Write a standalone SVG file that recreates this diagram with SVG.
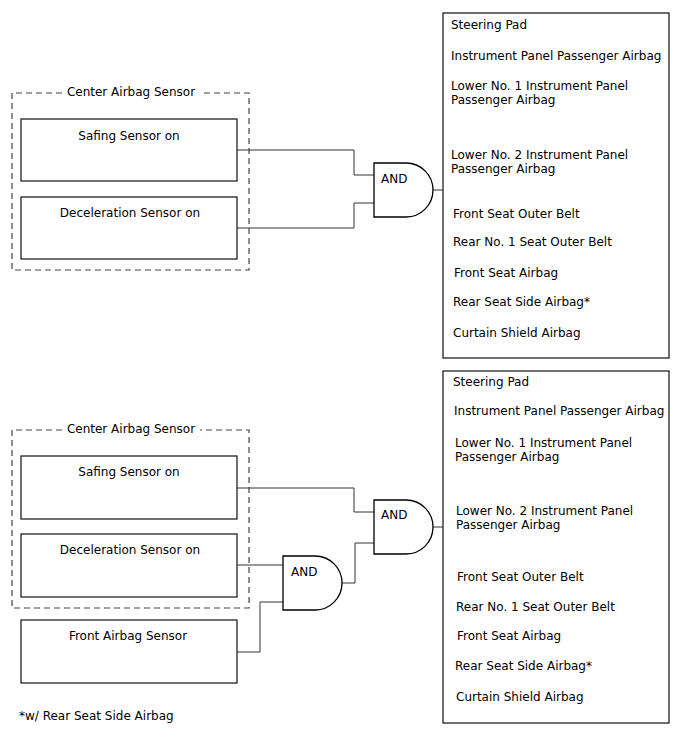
<svg xmlns="http://www.w3.org/2000/svg" width="688" height="755" viewBox="0 0 688 755">
<style>
text{font-family:"DejaVu Sans","Noto Sans",sans-serif;font-size:12px;fill:#000}
.box{fill:#fff;stroke:#222;stroke-width:1.3}
.dash{fill:none;stroke:#444;stroke-width:1.2;stroke-dasharray:6,4}
.gate{fill:#fff;stroke:#000;stroke-width:1.3}
.wire{fill:none;stroke:#333;stroke-width:1}
.c{text-anchor:middle}
</style>
<rect width="688" height="755" fill="#fff"/>
<g id="connectors">
<polyline class="wire" points="237,150 354,150 354,175 374,175"/>
<polyline class="wire" points="237,228 354,228 354,203 374,203"/>
<line class="wire" x1="433" y1="190" x2="443" y2="190"/>
<polyline class="wire" points="237,488 354,488 354,512 374,512"/>
<line class="wire" x1="237" y1="565" x2="283" y2="565"/>
<polyline class="wire" points="237,652 260,652 260,602 283,602"/>
<polyline class="wire" points="342,583 355,583 355,543 374,543"/>
<line class="wire" x1="433" y1="527" x2="443" y2="527"/>
</g>
<g id="center-sensor-1">
<path class="dash" d="M62,93 H12 V270 H249 V93 H200"/>
<text x="131" y="96" class="c">Center Airbag Sensor</text>
</g>
<g id="safing-1"><rect class="box" x="21" y="119" width="216" height="62"/><text x="129" y="140" class="c">Safing Sensor on</text></g>
<g id="decel-1"><rect class="box" x="21" y="197" width="216" height="62"/><text x="130" y="217" class="c">Deceleration Sensor on</text></g>
<g id="and-1"><path class="gate" d="M374,163 H406 A27,27 0 0 1 406,217 H374 Z"/><text x="381" y="183">AND</text></g>
<g id="outputs-1">
<rect class="box" x="443" y="13" width="226" height="345"/>
<text x="451" y="29">Steering Pad</text>
<text x="451" y="60">Instrument Panel Passenger Airbag</text>
<text x="451" y="90">Lower No. 1 Instrument Panel</text>
<text x="451" y="104">Passenger Airbag</text>
<text x="451" y="159">Lower No. 2 Instrument Panel</text>
<text x="451" y="173">Passenger Airbag</text>
<text x="453" y="218">Front Seat Outer Belt</text>
<text x="453" y="246">Rear No. 1 Seat Outer Belt</text>
<text x="454" y="277">Front Seat Airbag</text>
<text x="453" y="306">Rear Seat Side Airbag*</text>
<text x="453" y="337">Curtain Shield Airbag</text>
</g>
<g id="center-sensor-2">
<path class="dash" d="M62,430 H12 V608 H249 V430 H200"/>
<text x="131" y="433" class="c">Center Airbag Sensor</text>
</g>
<g id="safing-2"><rect class="box" x="21" y="456" width="216" height="63"/><text x="129" y="476" class="c">Safing Sensor on</text></g>
<g id="decel-2"><rect class="box" x="21" y="534" width="216" height="63"/><text x="130" y="554" class="c">Deceleration Sensor on</text></g>
<g id="front-sensor"><rect class="box" x="21" y="620" width="216" height="63"/><text x="128" y="640" class="c">Front Airbag Sensor</text></g>
<g id="and-2"><path class="gate" d="M283,556 H315 A27,27 0 0 1 315,610 H283 Z"/><text x="291" y="576">AND</text></g>
<g id="and-3"><path class="gate" d="M374,500 H406 A27,27 0 0 1 406,554 H374 Z"/><text x="381" y="519">AND</text></g>
<g id="outputs-2">
<rect class="box" x="443" y="371" width="226" height="352"/>
<text x="453" y="386">Steering Pad</text>
<text x="454" y="415">Instrument Panel Passenger Airbag</text>
<text x="455" y="447">Lower No. 1 Instrument Panel</text>
<text x="455" y="461">Passenger Airbag</text>
<text x="456" y="515">Lower No. 2 Instrument Panel</text>
<text x="456" y="529">Passenger Airbag</text>
<text x="457" y="581">Front Seat Outer Belt</text>
<text x="456" y="611">Rear No. 1 Seat Outer Belt</text>
<text x="457" y="640">Front Seat Airbag</text>
<text x="455" y="670">Rear Seat Side Airbag*</text>
<text x="456" y="701">Curtain Shield Airbag</text>
</g>
<text x="19" y="720">*w/ Rear Seat Side Airbag</text>
</svg>
